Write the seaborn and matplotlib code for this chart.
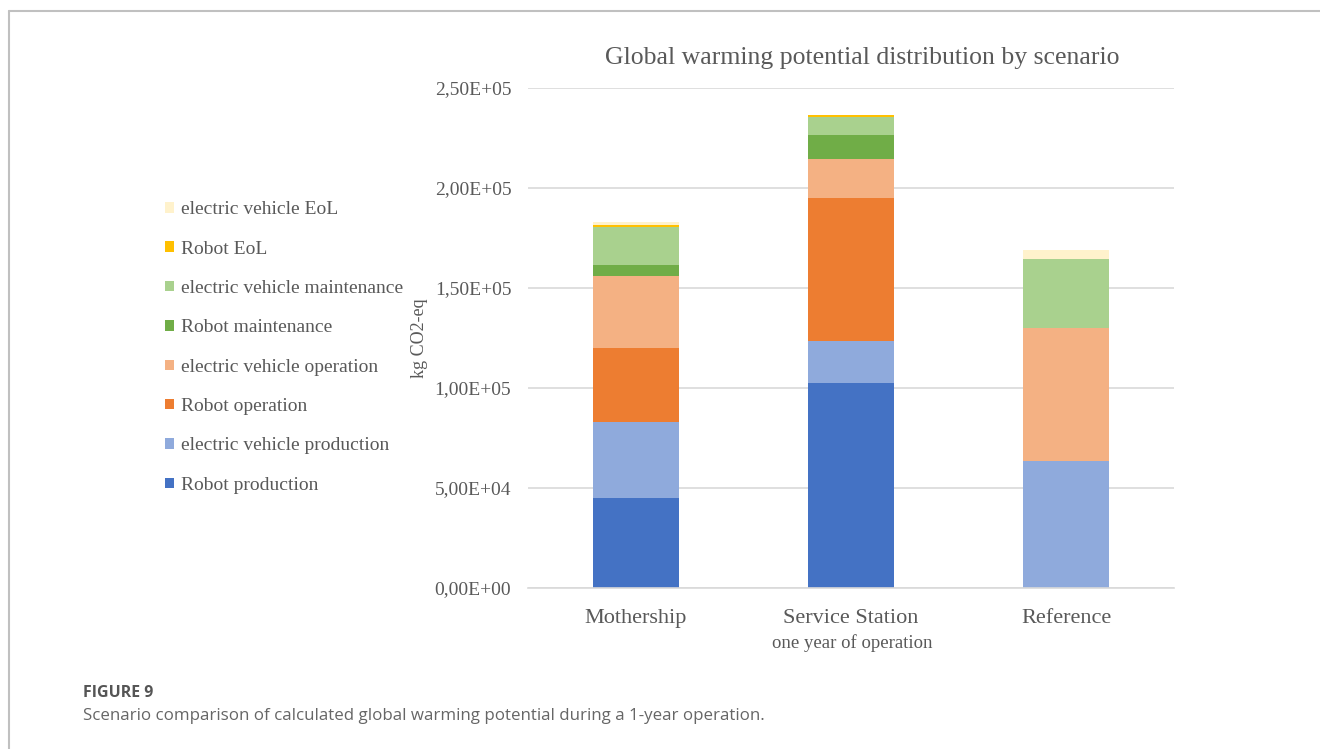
import matplotlib
matplotlib.use("Agg")
import matplotlib.pyplot as plt
from matplotlib.lines import Line2D
import numpy as np
import pandas as pd
import seaborn as sns

# Scenarios and their life-cycle stages (kg CO2-eq, one year of operation)
scenarios = ["Mothership", "Service Station", "Reference"]
stages = [
    "Robot production",
    "electric vehicle production",
    "Robot operation",
    "electric vehicle operation",
    "Robot maintenance",
    "electric vehicle maintenance",
    "Robot EoL",
    "electric vehicle EoL",
]
robot_production = [45000, 102500, 0]
ev_production = [38000, 21000, 63500]
robot_operation = [37000, 71500, 0]
ev_operation = [36000, 19300, 66500]
robot_maintenance = [5500, 12400, 0]
ev_maintenance = [19000, 8600, 34700]
robot_eol = [1000, 1400, 0]
ev_eol = [1700, 0, 4300]

stage_colors = ["#4472C4", "#8FAADC", "#ED7D31", "#F4B183",
                "#70AD47", "#A9D18E", "#FFC000", "#FFF2CC"]
yticks = [0, 50000, 100000, 150000, 200000, 250000]
ytick_labels = ["0,00E+00", "5,00E+04", "1,00E+05", "1,50E+05", "2,00E+05", "2,50E+05"]

values = [robot_production, ev_production, robot_operation, ev_operation,
          robot_maintenance, ev_maintenance, robot_eol, ev_eol]
df = pd.DataFrame({"scenario": np.repeat(scenarios, len(stages)),
                   "stage": stages * len(scenarios),
                   "value": np.array(values).T.ravel()})

sns.set_theme(style="white")
plt.rcParams["font.family"] = ["Liberation Serif", "DejaVu Serif"]
text_grey = "#595959"

fig = plt.figure(figsize=(13.2, 7.49), dpi=100)
ax = fig.add_axes([0.4, 0.2150, 0.4894, 0.6675])

# stacked bars: each stage sits on the running total of the ones below it
bottom = np.zeros(len(scenarios))
for stage, color in zip(stages, stage_colors):
    sub = df[df["stage"] == stage]
    sns.barplot(data=sub, x="scenario", y="value", order=scenarios, color=color,
                saturation=1, width=0.4, bottom=bottom, label=stage,
                linewidth=0, ax=ax, errorbar=None)
    bottom = bottom + sub["value"].to_numpy()

ax.set_xlim(-0.5, 2.5)
ax.set_ylim(0, 250000)
ax.set_yticks(yticks)
ax.set_yticklabels(ytick_labels)
ax.set_xlabel("")
ax.set_ylabel("kg CO2-eq", fontsize=13, color=text_grey)
ax.yaxis.set_label_coords(-0.155, 0.5)

ax.set_axisbelow(True)
ax.yaxis.grid(True, color="#d9d9d9", linewidth=1.2)
for side in ["left", "top", "right"]:
    ax.spines[side].set_visible(False)
ax.spines["bottom"].set_color("#d9d9d9")
ax.spines["bottom"].set_linewidth(1.2)

ax.tick_params(axis="y", length=0, pad=12, labelsize=14, labelcolor=text_grey)
ax.tick_params(axis="x", which="major", length=0, pad=15, labelsize=16,
               labelcolor=text_grey)
ax.set_xticks([-0.5, 0.5, 1.5, 2.5], minor=True)
ax.tick_params(axis="x", which="minor", length=8, width=1.2, color="#d9d9d9",
               direction="out")

ax.text(1.005, -0.11, "one year of operation", transform=ax.get_xaxis_transform(),
        ha="center", va="center", fontsize=13.5, color=text_grey)

fig.text(0.653, 1 - 58 / 749, "Global warming potential distribution by scenario",
         ha="center", va="center", fontsize=18.5, color=text_grey)

handles, labels = ax.get_legend_handles_labels()
leg = ax.legend(handles[::-1], labels[::-1], loc="upper left",
                bbox_to_anchor=(0.125, 0.7313), bbox_transform=fig.transFigure,
                frameon=False, fontsize=14, labelspacing=1.15,
                handlelength=0.45, handleheight=0.45, handletextpad=0.35,
                borderpad=0, borderaxespad=0)
for t in leg.get_texts():
    t.set_color(text_grey)

# page frame and caption
frame_color = "#c0c0c0"
fig.add_artist(Line2D([9 / 1320, 1], [1 - 11 / 749, 1 - 11 / 749],
                      transform=fig.transFigure, color=frame_color, lw=1.5))
fig.add_artist(Line2D([9 / 1320, 9 / 1320], [0, 1 - 11 / 749],
                      transform=fig.transFigure, color=frame_color, lw=1.5))
fig.text(83 / 1320, 1 - 693 / 749, "FIGURE 9", ha="left", va="center",
         fontsize=11.5, fontweight="bold", color="#555555", family="Open Sans")
fig.text(83 / 1320, 1 - 716 / 749,
         "Scenario comparison of calculated global warming potential during a 1-year operation.",
         ha="left", va="center", fontsize=12.2, color="#666666", family="Open Sans")

fig.savefig("out.png", dpi=100)
